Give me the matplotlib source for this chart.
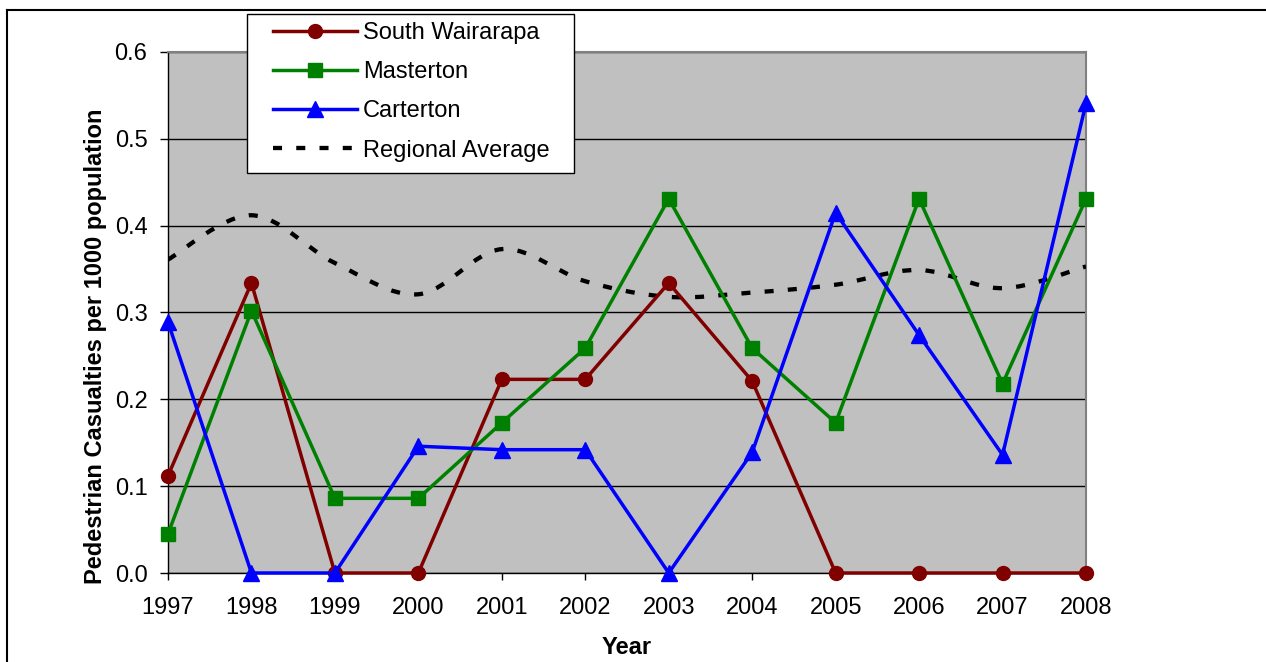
import numpy as np
import matplotlib
matplotlib.use("Agg")
import matplotlib.pyplot as plt
from matplotlib.path import Path
from matplotlib.patches import PathPatch, Rectangle
from matplotlib.lines import Line2D

plt.rcParams['font.family'] = ['Liberation Sans', 'DejaVu Sans']

years = ["1997", "1998", "1999", "2000", "2001", "2002",
         "2003", "2004", "2005", "2006", "2007", "2008"]
south_wairarapa = [0.112, 0.334, 0.0, 0.0, 0.223, 0.223, 0.334, 0.221, 0.0, 0.0, 0.0, 0.0]
masterton = [0.045, 0.302, 0.086, 0.086, 0.173, 0.259, 0.431, 0.259, 0.173, 0.431, 0.218, 0.431]
carterton = [0.289, 0.0, 0.0, 0.146, 0.142, 0.142, 0.0, 0.139, 0.415, 0.274, 0.136, 0.541]
regional_avg = [0.361, 0.412, 0.357, 0.321, 0.373, 0.336, 0.318, 0.323, 0.332, 0.349, 0.328, 0.353]
labels = ['South Wairarapa', 'Masterton', 'Carterton', 'Regional Average']

fig = plt.figure(figsize=(12.66, 6.62), dpi=100)
ax = fig.add_axes([168/1266, 1 - 573/662, 918/1266, 521/662])
ax.set_facecolor('#C0C0C0')

X = np.arange(len(years))

# smoothed regional average (Excel-style bezier through the points)
pts = np.column_stack([X, regional_avg]).astype(float)
verts = [tuple(pts[0])]
codes = [Path.MOVETO]
n = len(pts)
for i in range(n - 1):
    p0 = pts[max(i - 1, 0)]
    p1 = pts[i]
    p2 = pts[i + 1]
    p3 = pts[min(i + 2, n - 1)]
    c1 = p1 + (p2 - p0) / 6
    c2 = p2 - (p3 - p1) / 6
    verts += [tuple(c1), tuple(c2), tuple(p2)]
    codes += [Path.CURVE4] * 3
dash = (0, (2.1, 3.3))
avg_patch = PathPatch(Path(verts, codes), fill=False, edgecolor='black', lw=3.1,
                      linestyle=dash, capstyle='butt', zorder=3)
ax.add_patch(avg_patch)

l1, = ax.plot(X, south_wairarapa, color='#800000', lw=2.5, marker='o', ms=10,
              clip_on=False, zorder=4)
l2, = ax.plot(X, masterton, color='#008000', lw=2.5, marker='s', ms=10,
              clip_on=False, zorder=4)
l3, = ax.plot(X, carterton, color='#0000FF', lw=2.5, marker='^', ms=12,
              clip_on=False, zorder=5)
l4 = Line2D([], [], color='black', lw=3.1, linestyle=dash)

ax.set_xlim(0, 11)
ax.set_ylim(0, 0.6)
ax.set_xticks(X)
ax.set_xticklabels(years)
yt = np.arange(0, 0.61, 0.1)
ax.set_yticks(yt)
ax.set_yticklabels(['%.1f' % v for v in yt])
ax.tick_params(axis='both', labelsize=17, direction='out', color='black')
ax.tick_params(axis='y', length=5.8, width=1, pad=9)
ax.tick_params(axis='x', length=5, width=1, pad=12)

ax.grid(axis='y', color='black', lw=1)
ax.set_axisbelow(True)
for s in ['top', 'right']:
    ax.spines[s].set_color('#808080')
    ax.spines[s].set_linewidth(1.5)
for s in ['left', 'bottom']:
    ax.spines[s].set_color('black')
    ax.spines[s].set_linewidth(1)

ax.set_xlabel('Year', fontsize=17, fontweight='bold')
ax.xaxis.set_label_coords(0.5, -0.12)
ax.set_ylabel('Pedestrian Casualties per 1000 population', fontsize=17, fontweight='bold')
ax.yaxis.set_label_coords(-0.0665, 0.435)

# legend box
fig.add_artist(Rectangle((246.5/1266, 1 - 173/662), 327.5/1266, 159.5/662,
                         transform=fig.transFigure, facecolor='white',
                         edgecolor='black', lw=1, zorder=4))
leg = fig.legend([l1, l2, l3, l4], labels,
                 loc='upper left', bbox_to_anchor=(273/1266, 1 - 22/662),
                 fontsize=17, frameon=False, handlelength=3.56,
                 handletextpad=0.25, labelspacing=0.73, borderpad=0,
                 borderaxespad=0)
leg.set_zorder(5)

# outer chart border
fig.add_artist(Line2D([7/1266, 1], [1 - 10/662, 1 - 10/662], color='black', lw=1.5,
                      transform=fig.transFigure))
fig.add_artist(Line2D([7/1266, 7/1266], [0, 1 - 10/662], color='black', lw=1.5,
                      transform=fig.transFigure))

fig.savefig('out.png', dpi=100)
